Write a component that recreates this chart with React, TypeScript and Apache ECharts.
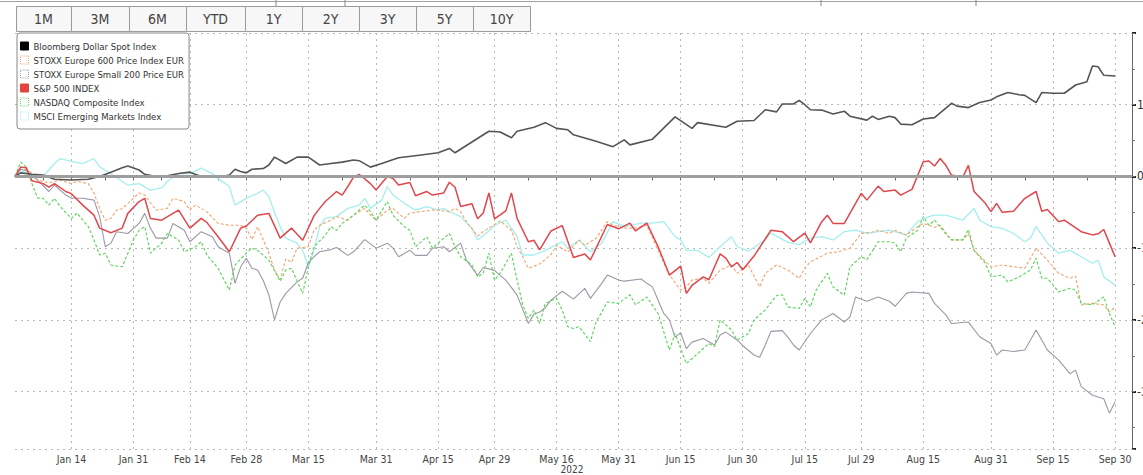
import React, { useEffect, useRef } from "react";
import * as echarts from "echarts";

const FONT = "'Liberation Sans Narrow', 'DejaVu Sans Condensed', 'Liberation Sans', Arial, sans-serif";

// ---------- data ----------
const RANGE_BUTTONS = ["1M", "3M", "6M", "YTD", "1Y", "2Y", "3Y", "5Y", "10Y"];

const X_LABELS = [
  "Jan 14", "Jan 31", "Feb 14", "Feb 28", "Mar 15", "Mar 31", "Apr 15", "Apr 29", "May 16",
  "May 31", "Jun 15", "Jun 30", "Jul 15", "Jul 29", "Aug 15", "Aug 31", "Sep 15", "Sep 30",
];
const YEAR_LABEL = "2022";

// business days from 2021-12-31 (index 0) through 2022-10-05
const START_DATE = "2021-12-31";
const CATEGORY_COUNT = 199;
const MONTHS = ["Jan", "Feb", "Mar", "Apr", "May", "Jun", "Jul", "Aug", "Sep", "Oct", "Nov", "Dec"];

const SERIES_NAMES = [
  "Bloomberg Dollar Spot Index",
  "STOXX Europe 600 Price Index EUR",
  "STOXX Europe Small 200 Price EUR",
  "S&P 500 INDEX",
  "NASDAQ Composite Index",
  "MSCI Emerging Markets Index",
];

// [business-day index, % change YTD]
const DOLLAR = [[0,0],[1,0.5],[3,0.3],[5,0.2],[7,-0.4],[10,-0.5],[13,-0.4],[15,0],[17,0.6],[19,1.2],[20,1.45],[22,0.9],[23,0.3],[25,0],[27,0.1],[29,0.4],[31,0.6],[33,0],[36,-0.1],[38,0.2],[39,1.0],[40,0.7],[41,0.5],[42,1.0],[44,1.1],[45,1.6],[46,2.7],[48,1.8],[50,2.7],[52,2.7],[54,1.6],[56,1.8],[58,2.0],[60,2.3],[61,2.2],[63,1.3],[65,1.8],[68,2.6],[72,3.0],[75,3.3],[77,3.9],[78,3.3],[81,4.8],[84,6.3],[86,6.2],[88,5.4],[89,6.3],[92,6.85],[94,7.5],[96,6.7],[98,6.5],[99,5.8],[103,4.9],[106,4.15],[108,5.1],[109,4.4],[113,5.2],[117,8.3],[120,6.7],[121,7.5],[126,6.85],[128,7.7],[131,7.8],[133,9.3],[135,9.0],[136,10.1],[138,10.1],[139,10.6],[140,10.0],[141,9.3],[143,9.25],[145,8.7],[147,9.1],[148,8.4],[151,7.85],[152,8.4],[153,7.95],[155,8.4],[156,8.2],[157,7.3],[159,7.2],[161,8.0],[163,8.2],[166,10.2],[167,9.8],[169,9.6],[171,10.3],[173,10.65],[174,11.1],[176,11.7],[178,11.4],[179,11.3],[181,10.3],[182,11.7],[184,11.6],[186,11.6],[188,12.75],[190,13.2],[191,15.4],[192,15.3],[193,14.1],[195,14.0]];

const STOXX600 = [[0,0],[1,1.3],[3,0.5],[4,-0.5],[6,-0.9],[8,-0.5],[10,-1.0],[11,-0.7],[13,-1.0],[14,-2.35],[15,-4.45],[16,-6.1],[17,-5.85],[18,-4.7],[19,-4.5],[21,-3.05],[22,-2.3],[23,-2.6],[25,-4.7],[27,-4.45],[28,-3.05],[30,-3.5],[31,-4.7],[32,-4.0],[34,-4.9],[36,-6.55],[38,-6.8],[40,-6.8],[41,-7.2],[42,-8.8],[43,-7.0],[45,-10.7],[46,-13.05],[47,-14.4],[48,-11.5],[49,-12.0],[50,-10.0],[52,-9.8],[53,-7.5],[54,-6.8],[56,-6.1],[57,-5.6],[59,-6.1],[60,-5.4],[62,-4.45],[63,-5.4],[64,-6.1],[66,-4.7],[67,-4.45],[69,-5.85],[70,-5.1],[72,-4.9],[74,-4.7],[75,-4.7],[77,-4.9],[78,-4.45],[79,-4.9],[80,-6.3],[82,-8.3],[83,-7.7],[85,-6.7],[86,-6.2],[88,-7.5],[89,-9.8],[90,-11.2],[91,-12.8],[93,-12.2],[95,-10.9],[96,-9.6],[98,-10.5],[100,-8.9],[101,-9.6],[103,-8.65],[105,-6.3],[106,-6.8],[108,-7.2],[110,-7.2],[112,-6.8],[114,-10.3],[116,-13.75],[118,-15.85],[119,-15.4],[120,-14.45],[122,-14.2],[123,-14.9],[125,-13.05],[127,-12.35],[128,-13.5],[130,-12.35],[132,-15.4],[133,-13.5],[135,-12.35],[137,-13.05],[139,-14.2],[140,-12.8],[141,-11.9],[144,-10.7],[146,-10.5],[148,-10.0],[150,-7.95],[152,-7.75],[153,-7.5],[155,-7.95],[156,-7.5],[158,-8.2],[160,-7.0],[161,-6.55],[163,-7.1],[164,-6.8],[166,-8.85],[168,-8.85],[169,-7.95],[170,-10.3],[173,-12.6],[175,-12.35],[177,-12.6],[179,-12.8],[181,-10.0],[183,-11.65],[185,-13.5],[187,-14.2],[188,-13.9],[189,-17.9],[191,-17.7],[193,-17.9],[194,-18.9],[195,-18.2]];

const SMALL200 = [[0,0],[1,1.0],[2,0.8],[4,-0.5],[6,-2.1],[7,-1.2],[9,-2.6],[10,-3.05],[12,-3.05],[14,-3.3],[15,-5.6],[16,-9.8],[17,-9.3],[18,-7.7],[20,-7.95],[22,-6.55],[23,-5.15],[24,-7.2],[25,-8.6],[27,-8.6],[28,-6.55],[30,-7.5],[31,-9.1],[33,-7.7],[35,-8.4],[36,-9.8],[38,-10.7],[39,-14.9],[40,-12.6],[41,-11.4],[42,-12.8],[43,-13.05],[44,-14.5],[45,-16.5],[46,-20.0],[47,-17.5],[48,-16.3],[50,-14.7],[51,-14.2],[52,-12.0],[53,-11.2],[54,-10.5],[56,-10.2],[57,-9.9],[59,-11.0],[60,-10.5],[62,-8.8],[64,-10.0],[66,-9.3],[67,-10.0],[68,-11.2],[70,-10.3],[71,-11.0],[73,-11.0],[74,-10.0],[76,-9.8],[77,-10.5],[79,-9.3],[80,-11.65],[82,-13.8],[83,-12.7],[85,-13.1],[86,-13.8],[87,-14.45],[89,-16.55],[91,-20.5],[92,-19.2],[93,-18.9],[94,-18.3],[95,-17.25],[97,-16.0],[99,-17.1],[101,-15.6],[102,-17.0],[104,-14.9],[105,-13.75],[107,-14.45],[108,-14.6],[111,-14.3],[112,-14.9],[113,-15.4],[114,-17.25],[115,-19.1],[116,-20.0],[117,-22.4],[118,-21.8],[119,-24.0],[120,-23.1],[122,-22.6],[124,-23.5],[125,-22.1],[126,-21.7],[128,-22.8],[129,-23.6],[131,-24.9],[132,-25.2],[133,-23.5],[134,-21.6],[136,-21.5],[137,-22.4],[138,-23.5],[139,-24.2],[141,-21.9],[143,-20.0],[145,-19.1],[147,-20.3],[148,-19.6],[149,-16.8],[151,-17.4],[153,-16.8],[155,-17.4],[156,-18.1],[158,-16.3],[159,-16.1],[162,-16.3],[163,-17.7],[165,-19.3],[166,-20.5],[169,-20.3],[171,-22.35],[173,-23.3],[174,-24.9],[175,-24.2],[177,-24.4],[179,-24.2],[181,-21.4],[183,-24.2],[185,-25.6],[187,-27.5],[188,-27.0],[189,-29.3],[191,-30.5],[193,-31.0],[194,-33.0],[195,-31.4]];

const SPX = [[0,0],[1,1.3],[2,1.2],[3,-0.6],[5,-1.0],[6,-1.5],[7,-1.0],[9,-2.1],[10,-2.4],[12,-4.0],[14,-5.4],[15,-7.2],[17,-7.85],[19,-7.2],[20,-5.15],[22,-3.5],[23,-3.05],[24,-5.85],[26,-6.1],[28,-5.15],[29,-4.7],[31,-7.2],[33,-5.85],[34,-6.4],[36,-8.4],[38,-10.5],[40,-7.2],[41,-6.9],[43,-5.4],[45,-5.15],[47,-8.6],[49,-7.2],[51,-8.9],[53,-5.5],[54,-4.45],[55,-3.5],[57,-2.1],[58,-2.6],[59,-1.4],[60,-0.1],[61,0.3],[63,-1.0],[64,-1.9],[66,0],[67,-0.3],[68,-1.2],[70,-0.85],[71,-2.7],[73,-2.1],[74,-2.6],[76,-2.3],[77,-0.8],[78,-1.5],[79,-4.2],[81,-3.8],[82,-5.9],[83,-5.1],[84,-2.3],[85,-5.9],[87,-4.8],[88,-2.3],[89,-5.85],[91,-9.1],[92,-8.9],[93,-10.25],[95,-7.6],[97,-6.85],[99,-11.3],[101,-10.8],[102,-11.65],[105,-6.7],[107,-7.3],[109,-6.5],[110,-7.6],[112,-6.5],[114,-9.8],[116,-13.75],[118,-12.5],[119,-16.3],[120,-15.2],[122,-14.0],[123,-14.4],[125,-10.8],[126,-11.4],[127,-12.6],[128,-12.0],[129,-13.0],[131,-11.1],[134,-7.5],[136,-7.7],[138,-9.1],[140,-7.9],[141,-9.25],[143,-6.3],[144,-5.4],[145,-6.55],[147,-6.55],[150,-2.35],[151,-3.3],[153,-1.35],[154,-2.1],[156,-1.9],[157,-2.6],[159,-1.8],[161,2.05],[162,2.15],[163,1.45],[164,2.5],[165,1.55],[166,0.2],[168,-0.1],[169,1.55],[170,-2.1],[172,-3.75],[173,-4.9],[174,-3.75],[175,-5.0],[177,-4.85],[179,-3.05],[181,-2.1],[182,-4.85],[183,-4.6],[185,-6.3],[186,-6.1],[189,-7.7],[191,-8.15],[192,-8.0],[193,-7.4],[194,-9.3],[195,-11.2]];

const NASDAQ = [[0,0],[1,2.0],[2,1.3],[3,-1.0],[4,-3.0],[5,-3.05],[6,-4.0],[7,-3.05],[8,-4.2],[10,-5.85],[11,-5.1],[13,-7.0],[14,-8.85],[15,-10.95],[16,-10.7],[17,-12.35],[19,-12.6],[21,-8.85],[22,-7.5],[23,-7.0],[24,-10.7],[25,-10.0],[26,-9.3],[27,-7.95],[29,-8.85],[30,-10.5],[32,-9.8],[33,-9.1],[34,-10.95],[36,-12.8],[38,-15.85],[39,-12.35],[41,-10.7],[42,-10.0],[43,-10.3],[45,-11.65],[47,-14.6],[48,-13.05],[49,-12.8],[51,-16.3],[52,-12.6],[53,-9.8],[55,-8.2],[56,-7.0],[57,-7.5],[58,-6.55],[60,-5.4],[62,-4.0],[63,-4.9],[64,-6.1],[66,-3.5],[67,-5.4],[69,-7.0],[70,-7.5],[71,-9.8],[73,-8.4],[74,-10.0],[77,-7.95],[78,-9.8],[79,-11.2],[81,-12.35],[82,-14.0],[83,-13.5],[84,-10.7],[85,-14.45],[86,-13.5],[88,-10.7],[89,-14.45],[90,-17.9],[91,-19.8],[92,-18.6],[93,-20.5],[94,-17.7],[96,-17.0],[97,-18.65],[98,-20.95],[99,-21.2],[100,-20.95],[102,-23.05],[103,-20.3],[105,-17.5],[107,-17.7],[109,-16.5],[110,-17.9],[112,-16.8],[114,-19.1],[116,-24.2],[117,-21.9],[119,-26.1],[121,-24.7],[123,-23.3],[124,-23.7],[125,-20.0],[127,-21.4],[128,-22.8],[130,-21.9],[131,-20.0],[133,-18.6],[135,-16.6],[136,-16.5],[137,-18.2],[139,-18.4],[140,-17.0],[141,-18.2],[142,-15.85],[144,-13.5],[145,-15.4],[147,-16.55],[148,-12.6],[150,-11.2],[151,-11.6],[153,-9.1],[155,-9.1],[156,-9.3],[157,-10.5],[158,-8.6],[160,-7.5],[161,-5.6],[162,-6.8],[163,-6.1],[165,-8.0],[166,-8.85],[168,-8.85],[169,-7.4],[170,-10.3],[172,-12.1],[173,-14.0],[175,-13.75],[176,-14.7],[178,-14.0],[180,-13.05],[181,-11.4],[182,-14.2],[183,-14.2],[185,-16.1],[187,-15.6],[188,-15.85],[189,-17.7],[191,-17.9],[193,-16.8],[194,-19.1],[195,-20.95]];

const MSCI_EM = [[0,0],[1,0.8],[3,0.2],[5,0],[7,1.8],[8,2.5],[10,2.1],[12,1.8],[14,2.5],[15,1.35],[17,0.4],[19,-0.7],[20,-1.2],[22,-1.0],[24,-1.9],[26,-1.6],[27,-0.7],[29,0.4],[31,0.4],[33,1.15],[35,0.4],[36,-0.3],[38,-1.4],[39,-4.0],[41,-3.05],[43,-2.35],[44,-1.9],[45,-2.8],[46,-5.0],[47,-7.0],[48,-8.6],[50,-9.3],[51,-10.3],[52,-12.6],[53,-10.3],[54,-7.0],[55,-5.85],[57,-5.6],[59,-4.45],[61,-4.0],[62,-3.05],[63,-4.45],[65,-3.3],[66,-1.4],[67,-2.6],[69,-3.75],[71,-4.7],[73,-4.2],[75,-4.7],[76,-4.45],[77,-4.9],[79,-5.6],[81,-7.25],[82,-8.85],[84,-7.6],[85,-6.8],[87,-6.1],[89,-8.4],[90,-10.95],[92,-10.95],[94,-10.3],[97,-9.1],[98,-10.0],[100,-8.85],[102,-10.5],[104,-9.3],[106,-6.3],[108,-7.0],[111,-6.5],[113,-6.5],[115,-6.3],[117,-8.4],[118,-8.85],[119,-10.3],[121,-10.3],[123,-11.3],[125,-9.8],[127,-8.4],[128,-9.8],[130,-10.4],[133,-8.85],[134,-7.9],[137,-9.2],[139,-9.5],[141,-8.6],[143,-8.4],[145,-8.85],[147,-7.7],[149,-7.5],[151,-7.95],[153,-7.7],[155,-7.5],[157,-7.95],[158,-8.15],[160,-6.3],[162,-5.6],[163,-5.4],[165,-5.4],[168,-6.1],[170,-4.45],[171,-6.1],[173,-7.0],[175,-7.25],[177,-7.95],[179,-9.1],[180,-8.6],[181,-7.0],[183,-9.3],[185,-10.7],[187,-10.3],[189,-11.2],[191,-12.1],[192,-11.65],[193,-14.0],[195,-15.15]];

// ---------- helpers ----------
function buildBusinessDays(start: string, count: number): string[] {
  const out: string[] = [];
  const d = new Date(start + "T00:00:00Z");
  while (out.length < count) {
    const wd = d.getUTCDay();
    if (wd !== 0 && wd !== 6) out.push(`${MONTHS[d.getUTCMonth()]} ${d.getUTCDate()}`);
    d.setUTCDate(d.getUTCDate() + 1);
  }
  return out;
}

const CATEGORIES = buildBusinessDays(START_DATE, CATEGORY_COUNT);
const LABEL_IDX = X_LABELS.map((l) => CATEGORIES.indexOf(l));
const LABEL_SET = new Set(LABEL_IDX);
const TICK_SET = new Set<number>(LABEL_IDX);
TICK_SET.add(Math.round(LABEL_IDX[0] / 2));
for (let i = 0; i < LABEL_IDX.length - 1; i++) TICK_SET.add(Math.round((LABEL_IDX[i] + LABEL_IDX[i + 1]) / 2));

const BTN_EDGES = [16, 71, 129, 186, 245, 302, 359, 416, 473, 530];

function buildOption() {
  const line = (name: string, data: number[][], color: string, width: number, type: any, z: number) => ({
    type: "line",
    name,
    data,
    symbol: "none",
    showSymbol: false,
    lineStyle: { color, width, type },
    itemStyle: { color },
    emphasis: { disabled: true },
    z,
  });

  const legendItems = [
    { name: SERIES_NAMES[0], icon: "rect", itemStyle: { color: "#000", borderColor: "#000", borderWidth: 1 } },
    { name: SERIES_NAMES[1], icon: "rect", itemStyle: { color: "#fff", borderColor: "#f3a56e", borderWidth: 1, borderType: "dotted" } },
    { name: SERIES_NAMES[2], icon: "rect", itemStyle: { color: "#fff", borderColor: "#9a98a2", borderWidth: 1, borderType: "dotted" } },
    { name: SERIES_NAMES[3], icon: "rect", itemStyle: { color: "#e0453f", borderColor: "#e0453f", borderWidth: 1 } },
    { name: SERIES_NAMES[4], icon: "rect", itemStyle: { color: "#fff", borderColor: "#6ad66a", borderWidth: 1, borderType: "dotted" } },
    { name: SERIES_NAMES[5], icon: "rect", itemStyle: { color: "#fff", borderColor: "#a6eeee", borderWidth: 1, borderType: "dotted" } },
  ];

  const graphics: any[] = [
    { type: "line", shape: { x1: 0, y1: 1.5, x2: 1143, y2: 1.5 }, style: { stroke: "#a0a0a0", lineWidth: 1 } },
    ...[276, 345, 821, 976].map((x) => ({
      type: "line",
      shape: { x1: x, y1: 0, x2: x, y2: 6 },
      style: { stroke: "#888", lineWidth: 1 },
    })),
    ...RANGE_BUTTONS.map((label, i) => ({
      type: "group",
      children: [
        {
          type: "rect",
          shape: { x: BTN_EDGES[i] + 0.5, y: 6.5, width: BTN_EDGES[i + 1] - BTN_EDGES[i], height: 25 },
          style: { fill: "#f7f7f7", stroke: "#9a9a9a", lineWidth: 1 },
        },
        {
          type: "text",
          x: (BTN_EDGES[i] + BTN_EDGES[i + 1]) / 2,
          y: 19,
          style: {
            text: label,
            fill: "#444",
            font: `14px ${FONT}`,
            align: "center",
            verticalAlign: "middle",
            textAlign: "center",
            textVerticalAlign: "middle",
          },
        },
      ],
    })),
    {
      type: "text",
      x: 572,
      y: 469,
      style: {
        text: YEAR_LABEL,
        fill: "#444",
        font: `10px ${FONT}`,
        align: "center",
        verticalAlign: "middle",
        textAlign: "center",
        textVerticalAlign: "middle",
      },
    },
  ];

  return {
    animation: false,
    backgroundColor: "#fff",
    grid: { left: 15, right: 11, top: 33, bottom: 26, containLabel: false, outerBoundsMode: "none" },
    legend: {
      orient: "vertical",
      left: 17,
      top: 33,
      padding: [7, 5, 7, 3],
      itemWidth: 8,
      itemHeight: 8,
      itemGap: 2,
      selectedMode: false,
      backgroundColor: "#fff",
      borderColor: "#888",
      borderWidth: 1,
      borderRadius: 3,
      textStyle: { fontSize: 9.5, lineHeight: 12, color: "#333", fontFamily: FONT },
      data: legendItems,
      z: 10,
    },
    xAxis: {
      type: "category",
      data: CATEGORIES,
      boundaryGap: false,
      axisLine: { lineStyle: { color: "#666", width: 1 } },
      axisTick: { show: true, interval: (i: number) => TICK_SET.has(i), length: 4, lineStyle: { color: "#666" } },
      axisLabel: {
        interval: (i: number) => LABEL_SET.has(i),
        color: "#444",
        fontSize: 10.5,
        margin: 4,
        fontFamily: FONT,
      },
      splitLine: {
        show: true,
        interval: (i: number) => LABEL_SET.has(i),
        lineStyle: { color: "#b8b8b8", width: 1, type: [2, 4] },
      },
    },
    yAxis: [
      {
        type: "value",
        position: "right",
        min: -38,
        max: 20,
        splitNumber: 5,
        axisLine: { show: true, lineStyle: { color: "#666", width: 1 } },
        axisTick: { show: true, inside: false, length: 4, lineStyle: { color: "#222", width: 2 } },
        axisLabel: {
          color: "#333",
          fontSize: 12,
          margin: 5,
          fontFamily: FONT,
          formatter: (v: number) => (Math.abs(v % 10) < 1e-9 && v < 20 ? String(v) : ""),
        },
        splitLine: { show: true, lineStyle: { color: "#b8b8b8", width: 1, type: [2, 4] } },
      },
      {
        type: "value",
        position: "right",
        min: -38,
        max: 20,
        splitNumber: 12,
        axisLine: { show: false },
        axisTick: { show: true, inside: false, length: 3, lineStyle: { color: "#777", width: 1 } },
        axisLabel: { show: false },
        splitLine: { show: false },
      },
    ],
    series: [
      line(SERIES_NAMES[5], MSCI_EM, "#a6eeee", 1.3, "solid", 2),
      line(SERIES_NAMES[2], SMALL200, "#9c98a6", 1.1, "solid", 2),
      line(SERIES_NAMES[1], STOXX600, "#f3a56e", 1.1, [3, 2], 3),
      line(SERIES_NAMES[4], NASDAQ, "#55d455", 1.1, [3, 2], 3),
      line(SERIES_NAMES[3], SPX, "#e0474c", 1.5, "solid", 4),
      line(SERIES_NAMES[0], DOLLAR, "#555555", 1.6, "solid", 4),
      {
        type: "line",
        name: "zero",
        data: [],
        symbol: "none",
        z: 5,
        markLine: {
          silent: true,
          symbol: ["none", "none"],
          label: { show: false },
          lineStyle: { color: "#9e9e9e", width: 3, type: "solid" },
          data: [{ yAxis: 0 }],
        },
      },
    ],
    graphic: graphics,
  };
}

export default function App() {
  const ref = useRef<HTMLDivElement>(null);
  useEffect(() => {
    if (!ref.current) return;
    const chart = echarts.init(ref.current, null, { renderer: "svg" });
    chart.setOption(buildOption() as any);
    return () => chart.dispose();
  }, []);
  return (
    <div style={{ position: "absolute", left: 0, top: 0, width: 1143, height: 475, overflow: "hidden", background: "#fff" }}>
      <div ref={ref} style={{ width: 1143, height: 475 }} />
    </div>
  );
}
